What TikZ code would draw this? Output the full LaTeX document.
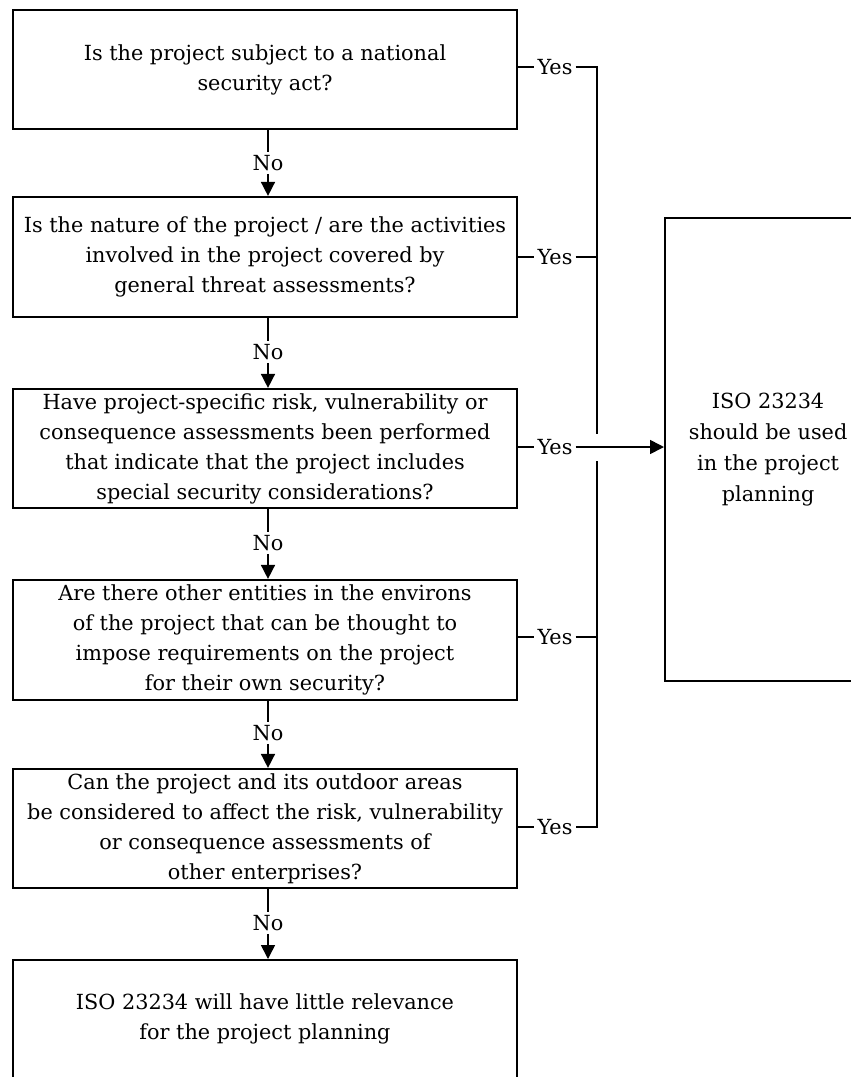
\documentclass[tikz,border=0pt]{standalone}
\usepackage{fontspec}
\setmainfont{DejaVu Serif}
\usetikzlibrary{arrows.meta}
\begin{document}
\begin{tikzpicture}[x=1pt,y=-1pt,
  qbox/.style={draw, line width=2.2pt, minimum width=504pt, align=center,
    font=\fontsize{20.8}{30}\selectfont, inner sep=0pt},
  rbox/.style={draw, line width=2.2pt, minimum width=206pt, align=center,
    font=\fontsize{20.8}{31}\selectfont, inner sep=0pt},
  lab/.style={font=\fontsize{20.8}{26}\selectfont, inner sep=3pt},
  conn/.style={line width=1.6pt},
  arr/.style={line width=1.6pt, -{Triangle[width=14pt,length=14pt]}}]
\useasboundingbox (0,0) rectangle (851,1077);
\clip (0,0) rectangle (851,1077);
\fill[white] (0,0) rectangle (851,1077);

\node[qbox, minimum height=119pt] (b1) at (265,69.5) {Is the project subject to a national\\security act?};
\node[qbox, minimum height=120pt] (b2) at (265,257) {Is the nature of the project / are the activities\\involved in the project covered by\\general threat assessments?};
\node[qbox, minimum height=119pt] (b3) at (265,448.5) {Have project-specific risk, vulnerability or\\consequence assessments been performed\\that indicate that the project includes\\special security considerations?};
\node[qbox, minimum height=120pt] (b4) at (265,640) {Are there other entities in the environs\\of the project that can be thought to\\impose requirements on the project\\for their own security?};
\node[qbox, minimum height=119pt] (b5) at (265,828.5) {Can the project and its outdoor areas\\be considered to affect the risk, vulnerability\\or consequence assessments of\\other enterprises?};
\node[qbox, minimum height=142pt, anchor=north] (b6) at (265,959) {ISO 23234 will have little relevance\\for the project planning\\\mbox{}};
\node[rbox, minimum height=463pt, anchor=north west] (r) at (664,217) {ISO 23234\\should be used\\in the project\\planning};

% No connectors
\node[lab] (n1) at (268,163) {No};
\node[lab] (n2) at (268,352) {No};
\node[lab] (n3) at (268,543) {No};
\node[lab] (n4) at (268,733) {No};
\node[lab] (n5) at (268,923) {No};
\draw[conn] (b1.south -| n1) -- (n1.north);
\draw[arr] (n1.south) -- (b2.north -| n1);
\draw[conn] (b2.south -| n2) -- (n2.north);
\draw[arr] (n2.south) -- (b3.north -| n2);
\draw[conn] (b3.south -| n3) -- (n3.north);
\draw[arr] (n3.south) -- (b4.north -| n3);
\draw[conn] (b4.south -| n4) -- (n4.north);
\draw[arr] (n4.south) -- (b5.north -| n4);
\draw[conn] (b5.south -| n5) -- (n5.north);
\draw[arr] (n5.south) -- (b6.north -| n5);

% Yes connectors
\node[lab] (y1) at (555,67) {Yes};
\node[lab] (y2) at (555,257) {Yes};
\node[lab] (y3) at (555,447) {Yes};
\node[lab] (y4) at (555,637) {Yes};
\node[lab] (y5) at (555,827) {Yes};
\coordinate (t1) at (597,67);
\coordinate (t2) at (597,257);
\coordinate (ga) at (597,434);
\coordinate (gb) at (597,461);
\coordinate (t4) at (597,637);
\coordinate (t5) at (597,827);
\draw[conn] (y1 -| b1.east) -- (y1.west);
\draw[conn] (y2 -| b2.east) -- (y2.west);
\draw[conn] (y3 -| b3.east) -- (y3.west);
\draw[conn] (y4 -| b4.east) -- (y4.west);
\draw[conn] (y5 -| b5.east) -- (y5.west);
\draw[conn] (y1.east) -- (t1) -- (ga);
\draw[conn] (y2.east) -- (t2);
\draw[conn] (gb) -- (t5) -- (y5.east);
\draw[conn] (y4.east) -- (t4);
\draw[arr] (y3.east) -- (y3 -| r.west);
\end{tikzpicture}
\end{document}
